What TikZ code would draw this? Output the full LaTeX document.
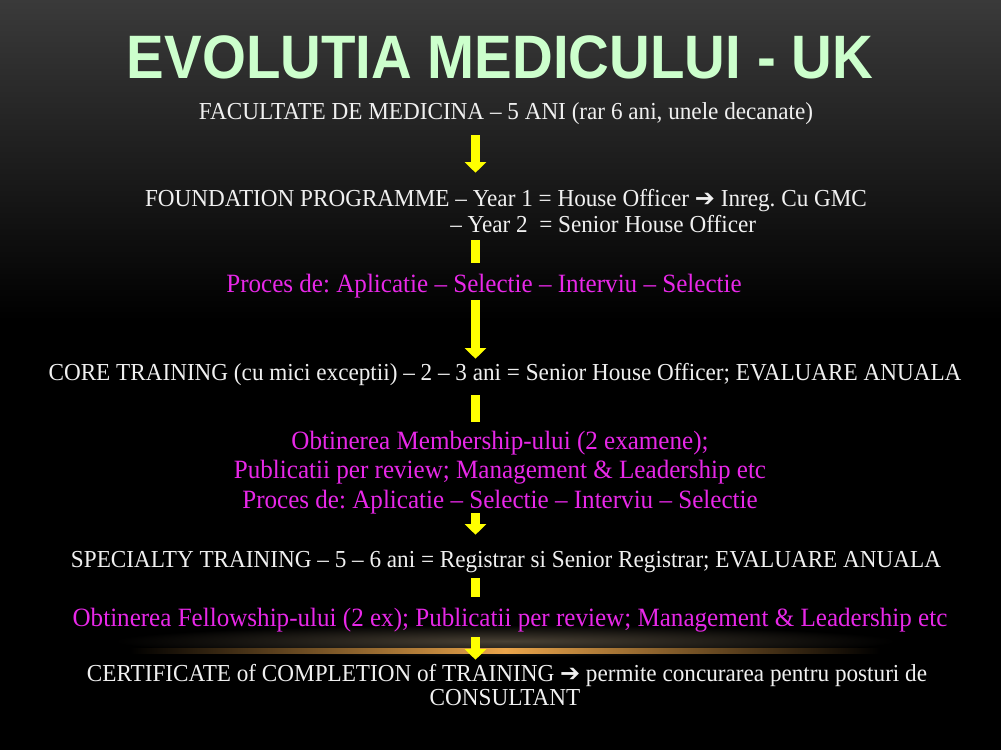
\documentclass[tikz,border=0pt]{standalone}
\usepackage{fontspec}
\setmainfont{Liberation Serif}[FakeStretch=0.95]
\newfontfamily\titlefont{Liberation Sans}[FakeStretch=0.92]
\newfontfamily\arrowfont{DejaVu Sans}
\usetikzlibrary{arrows.meta,positioning}
\definecolor{bgtop}{RGB}{58,58,58}
\definecolor{titlegreen}{RGB}{204,255,204}
\definecolor{offwhite}{RGB}{240,240,240}
\definecolor{procpink}{RGB}{232,40,232}
\definecolor{arrowyellow}{RGB}{255,255,0}
\definecolor{glowgold}{RGB}{235,165,75}
\definecolor{glowhaze}{RGB}{72,64,52}
\newcommand{\thickto}{{\arrowfont\fontsize{18}{18}\selectfont ➔}}
\frenchspacing

\begin{document}
\begin{tikzpicture}[x=0.75pt,y=-0.75pt,
	txt/.style={text=offwhite,font=\fontsize{18.3}{21}\selectfont,anchor=base,inner sep=0pt,text height=12pt,text depth=4pt},
	proc/.style={txt,text=procpink,font=\fontsize{19.8}{22}\selectfont},
	flow/.style={draw=arrowyellow,line width=6.75pt,-{Triangle[width=15.75pt,length=8pt]}},
	bar/.style={draw=arrowyellow,line width=6.75pt}] 
	% background
	\fill[black] (0,0) rectangle (1001,750);
	\shade[top color=bgtop,bottom color=black] (0,0) rectangle (1001,320);
	\shade[inner color=glowhaze,outer color=black] (505,641) ellipse (390 and 16);
	\shade[left color=black,right color=black,middle color=glowgold] (130,648) rectangle (880,653);
	\useasboundingbox (0,0) rectangle (1001,750);
	% title
	\node[anchor=base,inner sep=0pt,text=titlegreen,font=\titlefont\bfseries\fontsize{46}{50}\selectfont] (title) at (500,78) {EVOLUTIA MEDICULUI - UK};
	% steps
	\node[txt] (fac)    at (506,119) {FACULTATE DE MEDICINA -- 5 ANI (rar 6 ani, unele decanate)};
	\node[txt] (found)  at (506,206) {FOUNDATION PROGRAMME -- Year 1 = House Officer \thickto{} Inreg. Cu GMC};
	\node[txt,anchor=base west] (found2) at (450,232) {-- Year 2\ \ = Senior House Officer};
	\node[proc] (proc1) at (484,292) {Proces de: Aplicatie -- Selectie -- Interviu -- Selectie};
	\node[txt] (core)   at (505,380) {CORE TRAINING (cu mici exceptii) -- 2 -- 3 ani = Senior House Officer; EVALUARE ANUALA};
	\node[proc] (memb)  at (500,449) {Obtinerea Membership-ului (2 examene);};
	\node[proc] (publ)  at (500,478) {Publicatii per review; Management \& Leadership etc};
	\node[proc] (proc2) at (500,508) {Proces de: Aplicatie -- Selectie -- Interviu -- Selectie};
	\node[txt] (spec)   at (506,567) {SPECIALTY TRAINING -- 5 -- 6 ani = Registrar si Senior Registrar; EVALUARE ANUALA};
	\node[proc] (fell)  at (510,626) {Obtinerea Fellowship-ului (2 ex); Publicatii per review; Management \& Leadership etc};
	\node[txt] (cert)   at (507,681) {CERTIFICATE of COMPLETION of TRAINING \thickto{} permite concurarea pentru posturi de};
	\node[txt] (cert2)  at (505,705) {CONSULTANT};
	% connectors
	\coordinate (spine) at (475.5,0);
	\draw[flow,shorten <=8pt,shorten >=12.75pt] (fac.south -| spine) -- (found.north -| spine);
	\draw[bar,shorten <=2pt,shorten >=9.75pt] (found2.south -| spine) -- (proc1.north -| spine);
	\draw[flow,shorten <=2pt,shorten >=3.75pt] (proc1.south -| spine) -- (core.north -| spine);
	\draw[bar,shorten <=7.3pt,shorten >=8.25pt] (core.south -| spine) -- (memb.north -| spine);
	\draw[flow,shorten <=-0.2pt,shorten >=12pt] (proc2.south -| spine) -- (spec.north -| spine);
	\draw[bar,shorten <=4.3pt,shorten >=9.75pt] (spec.south -| spine) -- (fell.north -| spine);
	\draw[flow,shorten <=4.3pt,shorten >=3.75pt] (fell.south -| spine) -- (cert.north -| spine);
\end{tikzpicture}
\end{document}
